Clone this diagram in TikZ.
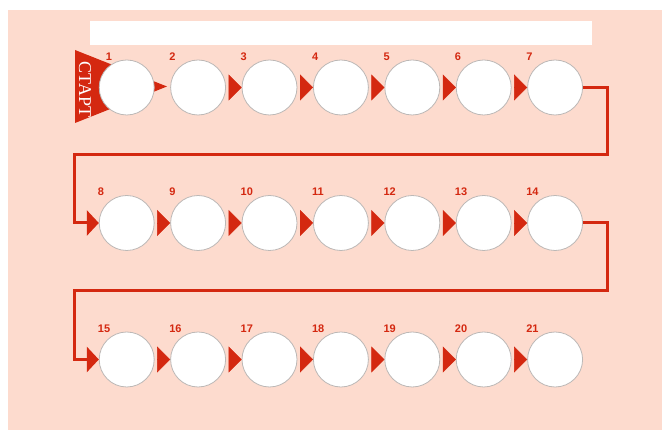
\documentclass[tikz,border=0pt]{standalone}
\usepackage{fontspec}
\setmainfont{Liberation Serif}
\setsansfont{Liberation Sans}
\usetikzlibrary{
  arrows.meta,
  positioning,
  calc
}
\definecolor{PeachBack}{RGB}{253,219,206}
\definecolor{TrackRed}{RGB}{212,40,16}
\definecolor{RimGray}{RGB}{188,184,182}
\tikzset{
  cell/.style={circle,draw=RimGray,fill=white,line width=0.8pt,minimum size=55pt,inner sep=0pt},
  cellnum/.style={font=\sffamily\bfseries\fontsize{11}{11}\selectfont,text=TrackRed,inner sep=0pt,anchor=west},
  flagtext/.style={font=\fontsize{18}{18}\selectfont,text=white,rotate=-90,inner sep=0pt},
  hop/.style={draw=TrackRed,line width=0.4pt,shorten <=3pt,-{Triangle[length=13pt,width=26pt]}},
  track/.style={draw=TrackRed,line width=3pt,-{Triangle[length=12pt,width=25pt]}}
}

\begin{document}
\begin{tikzpicture}[x=1pt,y=1pt,node distance=15.6pt]
\useasboundingbox (0,0) rectangle (662,430);
\fill[PeachBack] (8,0) rectangle (662,420);
\fill[white] (90,385) rectangle (592,409);

% start flag
\fill[TrackRed] (75,380) -- (75,307) -- (167,343.5) -- cycle;
\node[flagtext] (start) at (85,340.5) {СТАРТ};

% three rows of cells
\node[cell] (c1) at (126.7,342.5) {};
\foreach \i [remember=\i as \j (initially 1)] in {2,...,7}
  \node[cell,right=of c\j] (c\i) {};
\node[cell] (c8) at (126.7,207) {};
\foreach \i [remember=\i as \j (initially 8)] in {9,...,14}
  \node[cell,right=of c\j] (c\i) {};
\node[cell] (c15) at (126.7,70.5) {};
\foreach \i [remember=\i as \j (initially 15)] in {16,...,21}
  \node[cell,right=of c\j] (c\i) {};

% numbers
\node[cellnum] (n1) at ($(c1.center)+(-21,31)$) {1};
\foreach \i in {2,...,21}
  \node[cellnum] (n\i) at ($(c\i.center)+(-29,31)$) {\i};

% arrows between cells
\foreach \a in {2,3,4,5,6,8,9,10,11,12,13,15,16,17,18,19,20}{
  \pgfmathtruncatemacro\b{\a+1}
  \draw[hop] (c\a) -- (c\b);
}

% turns to the next row
\coordinate (bendA) at (74,275);
\coordinate (bendB) at (74,139);
\draw[track] (c7.east) -- ++(24,0) |- (bendA) |- (c8);
\draw[track] (c14.east) -- ++(24,0) |- (bendB) |- (c15);
\end{tikzpicture}
\end{document}
